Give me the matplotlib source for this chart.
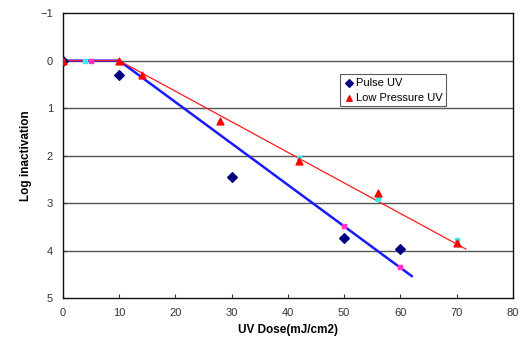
import matplotlib
matplotlib.use("Agg")
import matplotlib.pyplot as plt

# measured points
pulse_dose = [0, 10, 30, 50, 60]
pulse_log = [0.0, 0.3, 2.45, 3.72, 3.97]
lp_dose = [0, 10, 14, 28, 42, 56, 70]
lp_log = [0.0, 0.0, 0.3, 1.27, 2.1, 2.79, 3.84]

# fitted shoulder lines
pulse_fit_x = [0, 10, 62]
pulse_fit_y = [0.0, 0.0, 4.53]
lp_fit_x = [0, 10, 71.6]
lp_fit_y = [0.0, 0.0, 3.96]

# small model markers on the fitted lines
pulse_model_x = [5, 50, 60]
pulse_model_y = [0.0, 3.47, 4.34]
lp_model_x = [4, 42, 56, 70]
lp_model_y = [0.0, 2.05, 2.91, 3.77]

x_ticks = [0, 10, 20, 30, 40, 50, 60, 70, 80]
y_ticks = [-1, 0, 1, 2, 3, 4, 5]

plt.rcParams["font.family"] = ["Liberation Sans", "DejaVu Sans"]

fig = plt.figure(figsize=(5.24, 3.45), dpi=100)
ax = fig.add_axes([0.120, 0.135, 0.859, 0.827])

for y in y_ticks[1:-1]:
    ax.axhline(y, color="#555555", linewidth=1.0, zorder=1)

ax.plot(pulse_fit_x, pulse_fit_y, color="#1a1aff", linewidth=1.8, zorder=2)
ax.plot(lp_fit_x, lp_fit_y, color="#ff1a1a", linewidth=0.9, zorder=3)
ax.scatter(pulse_model_x, pulse_model_y, marker="s", s=5, color="#ff33cc", zorder=4)
ax.scatter(lp_model_x, lp_model_y, marker="s", s=5, color="#33eeee", zorder=4)

ax.scatter(pulse_dose, pulse_log, marker="D", s=24, color="#000080", label="Pulse UV", zorder=5)
ax.scatter(lp_dose, lp_log, marker="^", s=24, color="#ff0000", label="Low Pressure UV", zorder=6)

ax.set_xlim(0, 80)
ax.set_ylim(5, -1)
ax.set_xticks(x_ticks)
ax.set_yticks(y_ticks)
ax.set_yticklabels(["\u22121"] + [str(v) for v in y_ticks[1:]])
ax.tick_params(axis="both", direction="in", length=3, labelsize=8, colors="#333333",
               labelcolor="#333333", pad=7)
for spine in ax.spines.values():
    spine.set_color("#111111")
    spine.set_linewidth(1.0)

ax.set_xlabel("UV Dose(mJ/cm2)", fontsize=8.5, fontweight="bold", labelpad=4)
ax.set_ylabel("Log inactivation", fontsize=8.5, fontweight="bold", labelpad=6)

leg = ax.legend(loc="upper left", bbox_to_anchor=(0.615, 0.786), borderaxespad=0,
                fontsize=8, frameon=True, fancybox=False, edgecolor="#333333",
                handletextpad=0.1, borderpad=0.35, labelspacing=0.4, handlelength=1.0,
                markerscale=0.8)
leg.get_frame().set_linewidth(0.8)

fig.savefig("out.png", dpi=100)
